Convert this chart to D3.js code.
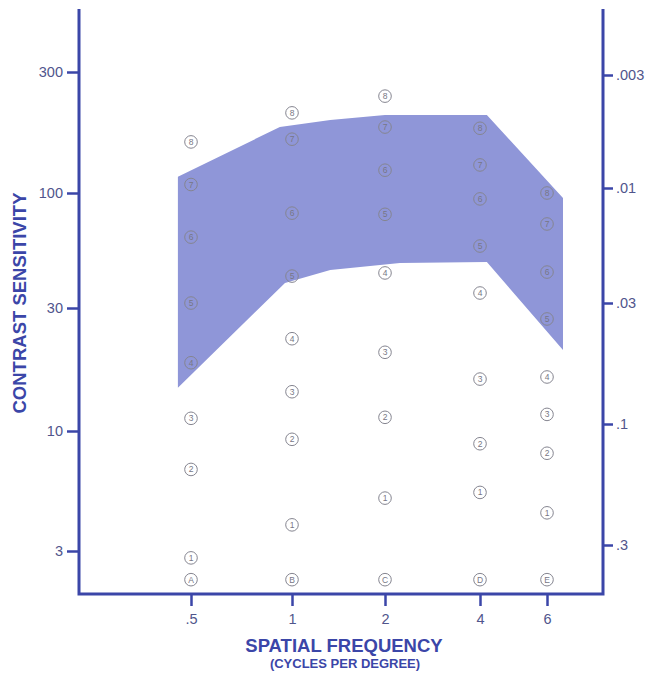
<!DOCTYPE html>
<html>
<head>
<meta charset="utf-8">
<script src="https://cdn.jsdelivr.net/npm/d3@7"></script>
<style>
  html, body { margin: 0; padding: 0; background: #ffffff; }
  svg { display: block; }
</style>
</head>
<body>
<svg id="chart" width="652" height="679"></svg>
<script>
// ---- data ----
const frequencies = [0.5, 1, 2, 4, 6];
const freqLabels = [".5", "1", "2", "4", "6"];
const rowLetters = ["A", "B", "C", "D", "E"];
const sensTicks = [3, 10, 30, 100, 300];
const sensTickLabels = ["3", "10", "30", "100", "300"];
const contrastTicks = [0.003, 0.01, 0.03, 0.1, 0.3];
const contrastTickLabels = [".003", ".01", ".03", ".1", ".3"];
// patch sensitivities, patches 1..8, per row A..E
const rowA = [2.8, 6.8, 11.2, 18.4, 31.6, 63, 108, 159];
const rowB = [3.9, 9.2, 14.2, 22.8, 41.9, 81, 163, 207];
const rowC = [5.1, 11.3, 20.2, 43.3, 80, 123, 182, 241];
const rowD = [5.4, 8.8, 15.9, 35.1, 57.4, 94, 129, 180];
const rowE = [4.4, 8.0, 11.6, 16.2, 27.2, 43.7, 72.3, 100];
const letterRowSensitivity = 2.25;
// normal range band: [frequency, sensitivity]
const bandUpper = [[0.457, 116], [0.92, 182], [1.33, 194], [2.0, 203], [4.17, 203], [6.61, 95]];
const bandLower = [[0.457, 14.7], [0.953, 39.0], [1.33, 44.6], [2.23, 48.1], [4.17, 48.6], [6.61, 20.6]];

(function () {
// ---- layout ----
const svg = d3.select("#chart");
const axisColor = "#3b46a8";
const labelColor = "#50558c";
const leftX = 79, rightX = 603, bottomY = 594, topY = 9;

const x = d3.scaleLog().domain(frequencies).range([191, 292, 385, 480, 547]);
const y = d3.scaleLog().domain(sensTicks).range([551, 431, 308, 193, 72]);
const yR = d3.scaleLog().domain(contrastTicks).range([75, 188, 303, 424, 545]);

// band
const bandPts = bandUpper.concat(bandLower.slice().reverse());
svg.append("path")
  .attr("d", d3.line().x(d => x(d[0])).y(d => y(d[1])).curve(d3.curveLinearClosed)(bandPts))
  .attr("fill", "#8f96d8");

// patches
const rows = [rowA, rowB, rowC, rowD, rowE];
const patches = [];
rows.forEach((vals, i) => {
  vals.forEach((v, j) => patches.push({f: frequencies[i], s: v, label: String(j + 1)}));
  patches.push({f: frequencies[i], s: letterRowSensitivity, label: rowLetters[i]});
});
const g = svg.append("g");
const pg = g.selectAll("g.p").data(patches).enter().append("g")
  .attr("transform", d => `translate(${x(d.f)},${y(d.s)})`);
pg.append("circle").attr("r", 6.3).attr("fill", "none")
  .attr("stroke", "#858590").attr("stroke-width", 1);
pg.append("text").text(d => d.label)
  .attr("text-anchor", "middle").attr("dy", "0.35em")
  .attr("font-family", "Liberation Sans, Arial, sans-serif")
  .attr("font-size", 8.5).attr("fill", "#777785");

// axes
function styleAxis(sel) {
  sel.select(".domain").remove();
  sel.selectAll(".tick line").attr("stroke", axisColor).attr("stroke-width", 2.5);
  sel.selectAll(".tick text").attr("fill", labelColor)
    .attr("font-family", "Liberation Sans, Arial, sans-serif").attr("font-size", 14.5);
}
const yAxis = d3.axisLeft(y).tickValues(sensTicks).tickSize(12).tickPadding(4)
  .tickFormat((d, i) => sensTickLabels[i]);
svg.append("g").attr("transform", `translate(${leftX},0)`).call(yAxis).call(styleAxis);

const yAxisR = d3.axisRight(yR).tickValues(contrastTicks).tickSize(10).tickPadding(3)
  .tickFormat((d, i) => contrastTickLabels[i]);
svg.append("g").attr("transform", `translate(${rightX},0)`).call(yAxisR).call(styleAxis);

const xAxis = d3.axisBottom(x).tickValues(frequencies).tickSize(12).tickPadding(8)
  .tickFormat((d, i) => freqLabels[i]);
svg.append("g").attr("transform", `translate(0,${bottomY})`).call(xAxis).call(styleAxis);

// axis lines
svg.append("path")
  .attr("d", `M${leftX},${topY}V${bottomY}H${rightX}V${topY}`)
  .attr("fill", "none").attr("stroke", axisColor).attr("stroke-width", 3);

// titles
svg.append("text").text("SPATIAL FREQUENCY")
  .attr("x", 344).attr("y", 652).attr("text-anchor", "middle")
  .attr("font-family", "Liberation Sans, Arial, sans-serif").attr("font-weight", "bold")
  .attr("font-size", 18.5).attr("fill", axisColor);
svg.append("text").text("(CYCLES PER DEGREE)")
  .attr("x", 345).attr("y", 668).attr("text-anchor", "middle")
  .attr("font-family", "Liberation Sans, Arial, sans-serif").attr("font-weight", "bold")
  .attr("font-size", 13).attr("fill", axisColor);
svg.append("text").text("CONTRAST SENSITIVITY")
  .attr("transform", "translate(26,303) rotate(-90)").attr("text-anchor", "middle")
  .attr("font-family", "Liberation Sans, Arial, sans-serif").attr("font-weight", "bold")
  .attr("font-size", 18.5).attr("fill", axisColor);
})();
</script>
</body>
</html>
